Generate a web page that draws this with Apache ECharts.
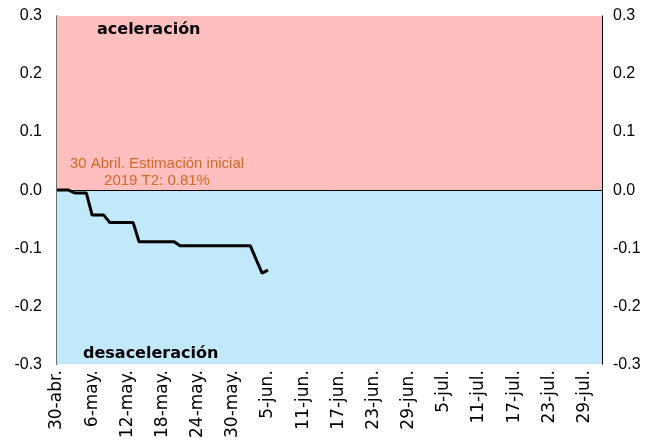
<!DOCTYPE html>
<html>
<head>
<meta charset="utf-8">
<script src="https://cdn.jsdelivr.net/npm/echarts@6/dist/echarts.min.js"></script>
<style>
html,body{margin:0;padding:0;background:#fff;}
#chart{width:660px;height:441px;}
</style>
</head>
<body>
<div id="chart"></div>
<script>
// Month abbreviations used for daily category labels
const monthNames = ['ene','feb','mar','abr','may','jun','jul','ago','sep','oct','nov','dic'];
const startDate = [2019, 3, 30];   // 30-abr-2019
const dayCount = 94;               // 30-abr .. 1-ago
// Daily values (change vs. initial estimate), 30-abr .. 5-jun
const seriesValues = [
  0, 0, 0,
  -0.005, -0.005, -0.005,
  -0.043, -0.043, -0.043,
  -0.056, -0.056, -0.056, -0.056, -0.056,
  -0.089, -0.089, -0.089, -0.089, -0.089, -0.089, -0.089,
  -0.096, -0.096, -0.096, -0.096, -0.096, -0.096, -0.096, -0.096, -0.096, -0.096, -0.096, -0.096, -0.096,
  -0.12, -0.143, -0.138
];
const yTicks = [-0.3, -0.2, -0.1, 0.0, 0.1, 0.2, 0.3];
const zoneLabels = ['aceleración', 'desaceleración'];
const noteLines = ['30 Abril. Estimación inicial', '2019 T2: 0.81%'];

const categories = [];
for (let i = 0; i < dayCount; i++) {
  const d = new Date(startDate[0], startDate[1], startDate[2] + i);
  categories.push(d.getDate() + '-' + monthNames[d.getMonth()] + '.');
}

const yMin = yTicks[0], yMax = yTicks[yTicks.length - 1];
const yAxisCommon = {
  type: 'value', min: yMin, max: yMax, interval: 0.1,
  splitLine: { show: false },
  axisTick: { show: false },
  axisLabel: {
    formatter: v => v.toFixed(1),
    fontFamily: 'Liberation Sans, Arial, sans-serif',
    fontSize: 16, color: '#000'
  }
};

const chart = echarts.init(document.getElementById('chart'), null, { renderer: 'canvas' });
chart.setOption({
  animation: false,
  backgroundColor: '#fff',
  grid: { left: 57, right: 58, top: 16, bottom: 75, containLabel: false },
  xAxis: {
    type: 'category', data: categories, boundaryGap: false,
    axisLine: { show: false },
    axisTick: { show: false },
    axisLabel: {
      interval: 5, rotate: 90, margin: 6, padding: [6, 0, 0, 0],
      fontFamily: 'DejaVu Sans, Verdana, sans-serif', fontSize: 17, color: '#000'
    }
  },
  yAxis: [
    Object.assign({}, yAxisCommon, {
      position: 'left',
      axisLine: { show: true, lineStyle: { color: '#404040', width: 1.5 } },
      axisLabel: Object.assign({}, yAxisCommon.axisLabel, { margin: 15 })
    }),
    Object.assign({}, yAxisCommon, {
      position: 'right',
      axisLine: { show: true, lineStyle: { color: '#000', width: 1 } },
      axisLabel: Object.assign({}, yAxisCommon.axisLabel, { margin: 11 })
    })
  ],
  series: [{
    type: 'line',
    data: seriesValues,
    showSymbol: false,
    lineStyle: { color: '#000', width: 3 },
    z: 5,
    markArea: {
      silent: true,
      data: [
        [{ yAxis: yMax, itemStyle: { color: '#FFBFBF' } }, { yAxis: 0 }],
        [{ yAxis: 0, itemStyle: { color: '#C1E9F9' } }, { yAxis: yMin }]
      ]
    },
    markLine: {
      silent: true, symbol: 'none',
      label: { show: false },
      lineStyle: { color: '#000', width: 1, type: 'solid' },
      data: [{ yAxis: 0 }]
    }
  }],
  graphic: [
    { type: 'text', left: 97, top: 22, z: 10,
      style: { text: zoneLabels[0], font: 'bold 16px "DejaVu Sans", Verdana, sans-serif', fill: '#000' } },
    { type: 'text', left: 83, top: 346, z: 10,
      style: { text: zoneLabels[1], font: 'bold 16px "DejaVu Sans", Verdana, sans-serif', fill: '#000' } },
    { type: 'text', x: 157, y: 155, z: 10,
      style: { text: noteLines[0] + '\n' + noteLines[1], align: 'center', verticalAlign: 'top',
        font: '15px "Liberation Sans", Arial, sans-serif', fill: '#D0692A', lineHeight: 17 } }
  ]
});
</script>
</body>
</html>
